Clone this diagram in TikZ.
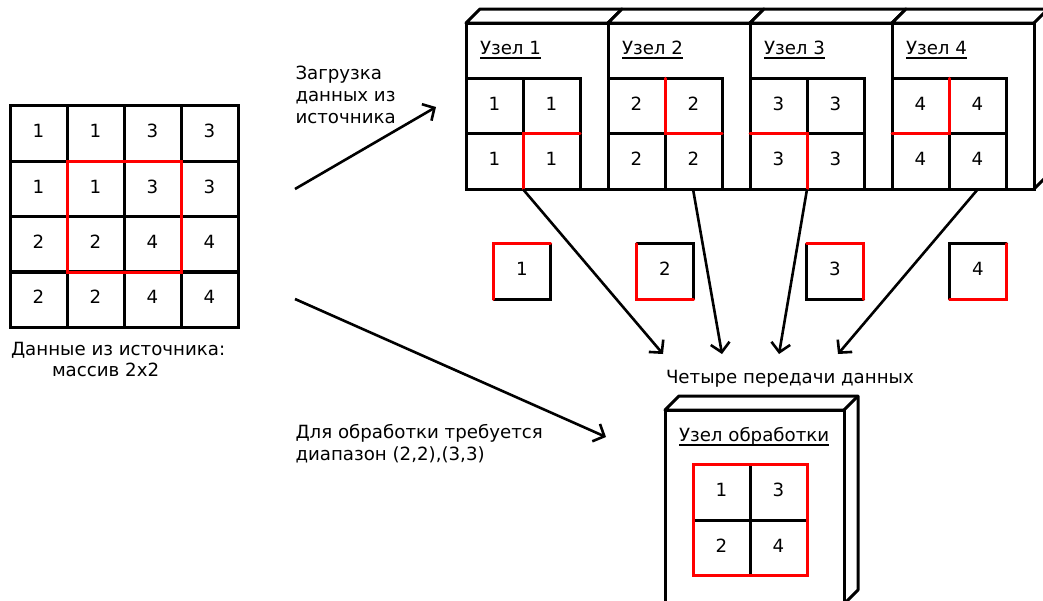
\documentclass[tikz,border=0pt]{standalone}
\usepackage{fontspec}
\setmainfont{DejaVu Sans}
\usetikzlibrary{arrows.meta,calc}

\tikzset{
  edge/.style={line width=3pt, draw=black},
  hot/.style={line width=3pt, draw=red, line cap=round},
  cell/.style={draw=black, line width=3pt, minimum width=#1, minimum height=55.5pt,
    inner sep=0pt, outer sep=0pt, font=\fontsize{18.2}{20}\selectfont},
  cell/.default=57pt,
  txt/.style={inner sep=0pt, outer sep=0pt, font=\fontsize{18.2}{22}\selectfont, align=left},
  flow/.style={line width=2.6pt, -{Straight Barb[length=9pt,width=19pt,line width=2.6pt]}},
  front/.style={draw=black, fill=white, line width=3pt, inner sep=0pt, outer sep=0pt, anchor=north west},
  ul/.style={line width=1.6pt}
}
\newcommand{\dg}[1]{\raisebox{5pt}{#1}}

\begin{document}
\begin{tikzpicture}[x=1pt,y=-1pt]
\useasboundingbox (0,0) rectangle (1043,600);
\clip (0,0) rectangle (1043,600);

% ---------- source array 4x4 ----------
\foreach \v [count=\i from 0] in {1,1,3,3,1,1,3,3,2,2,4,4,2,2,4,4} {
  \pgfmathtruncatemacro{\c}{mod(\i,4)}
  \pgfmathtruncatemacro{\r}{int(\i/4)}
  \node[cell] (s-\r-\c) at ({38.5+57*\c},{133.7+55.3*\r}) {\dg{\v}};
}
\draw[hot] (s-1-1.north west) rectangle (s-2-2.south east);

\node[txt, anchor=base west] (srccap1) at (11,355) {Данные из источника:};
\node[txt, anchor=base west] (srccap2) at (52,376) {массив 2x2};

% ---------- storage nodes ----------
\foreach \k/\v in {1/1,2/2,3/3,4/4} {
  \pgfmathsetmacro{\x}{466+142*(\k-1)}
  % depth faces
  \draw[edge, fill=white, line join=round]
    (\x,23) -- ++(14,-14) -- ++(142,0) -- ++(0,166) -- ++(-14,14) -- ++(0,-166) -- cycle;
  \draw[edge] ({\x+142},23) -- ++(14,-14);
  % front face
  \node[front, minimum width=142pt, minimum height=166pt] (n\k) at (\x,23) {};
  \node[txt, anchor=base west] (lab\k) at ({\x+14},54) {Узел \v};
  \draw[ul] ($(lab\k.base west)+(0,4)$) -- ($(lab\k.base east)+(0,4)$);
  % local 2x2 block
  \node[cell] (b\k-0-0) at ({\x+28.5},106) {\dg{\v}};
  \node[cell] (b\k-0-1) at ({\x+85.5},106) {\dg{\v}};
  \node[cell] (b\k-1-0) at ({\x+28.5},161.5) {\dg{\v}};
  \node[cell] (b\k-1-1) at ({\x+85.5},161.5) {\dg{\v}};
}
% halo cells required by the processing node
\draw[hot] (b1-1-1.north east) -- (b1-1-1.north west) -- (b1-1-1.south west);
\draw[hot] (b2-0-1.north west) -- (b2-0-1.south west) -- (b2-0-1.south east);
\draw[hot] (b3-1-0.north west) -- (b3-1-0.north east) -- (b3-1-0.south east);
\draw[hot] (b4-0-0.south west) -- (b4-0-0.south east) -- (b4-0-0.north east);

% ---------- transferred pieces ----------
\node[cell, draw=none] (p1) at (522,271.5) {\dg{1}};
\node[cell, draw=none] (p2) at (665,271.5) {\dg{2}};
\node[cell, draw=none] (p3) at (835,271.5) {\dg{3}};
\node[cell, draw=none] (p4) at (978,271.5) {\dg{4}};
\draw[edge, line cap=round] (p1.north east) -- (p1.south east) -- (p1.south west);
\draw[hot] (p1.south west) -- (p1.north west) -- (p1.north east);
\draw[edge, line cap=round] (p2.north west) -- (p2.north east) -- (p2.south east);
\draw[hot] (p2.north west) -- (p2.south west) -- (p2.south east);
\draw[edge, line cap=round] (p3.north west) -- (p3.south west) -- (p3.south east);
\draw[hot] (p3.north west) -- (p3.north east) -- (p3.south east);
\draw[edge, line cap=round] (p4.south west) -- (p4.north west) -- (p4.north east);
\draw[hot] (p4.north east) -- (p4.south east) -- (p4.south west);

\node[txt, anchor=base west] (four) at (666,383) {Четыре передачи данных};

% ---------- processing node ----------
\draw[edge, fill=white, line join=round]
  (665,410) -- ++(14,-14) -- ++(179,0) -- ++(0,194) -- ++(-14,14) -- ++(0,-194) -- cycle;
\draw[edge] (844,410) -- ++(14,-14);
\node[front, minimum width=179pt, minimum height=194pt] (proc) at (665,410) {};
\node[txt, anchor=base west] (plab) at (679,441) {Узел обработки};
\draw[ul] ($(plab.base west)+(0,4)$) -- ($(plab.base east)+(0,4)$);
\node[cell] (q-0-0) at (721.5,492.5) {\dg{1}};
\node[cell] (q-0-1) at (778.5,492.5) {\dg{3}};
\node[cell] (q-1-0) at (721.5,548) {\dg{2}};
\node[cell] (q-1-1) at (778.5,548) {\dg{4}};
\draw[hot] (q-0-0.north west) rectangle (q-1-1.south east);

% ---------- annotations and flows ----------
% multi-line nodes: the base anchor sits on the last line
\node[txt, anchor=base west] (loadtxt) at (295.5,123) {Загрузка\\данных из\\источника};
\node[txt, anchor=base west] (needtxt) at (295.5,460) {Для обработки требуется\\диапазон (2,2),(3,3)};

\coordinate (loadfrom) at (295,189);
\coordinate (loadto) at (436,107);
\coordinate (needfrom) at (295,299);
\coordinate (needto) at (606,437);
\coordinate (t1) at (663,354);
\coordinate (t2) at (722,354);
\coordinate (t3) at (779,354);
\coordinate (t4) at (838,354);

\draw[flow] (loadfrom) -- (loadto);
\draw[flow] (needfrom) -- (needto);
\draw[flow] (b1-1-0.south east) -- (t1);
\draw[flow] ($(n2.south west)+(85,0)$) -- (t2);
\draw[flow] (b3-1-0.south east) -- (t3);
\draw[flow] ($(n4.south west)+(86,0)$) -- (t4);
\end{tikzpicture}
\end{document}
